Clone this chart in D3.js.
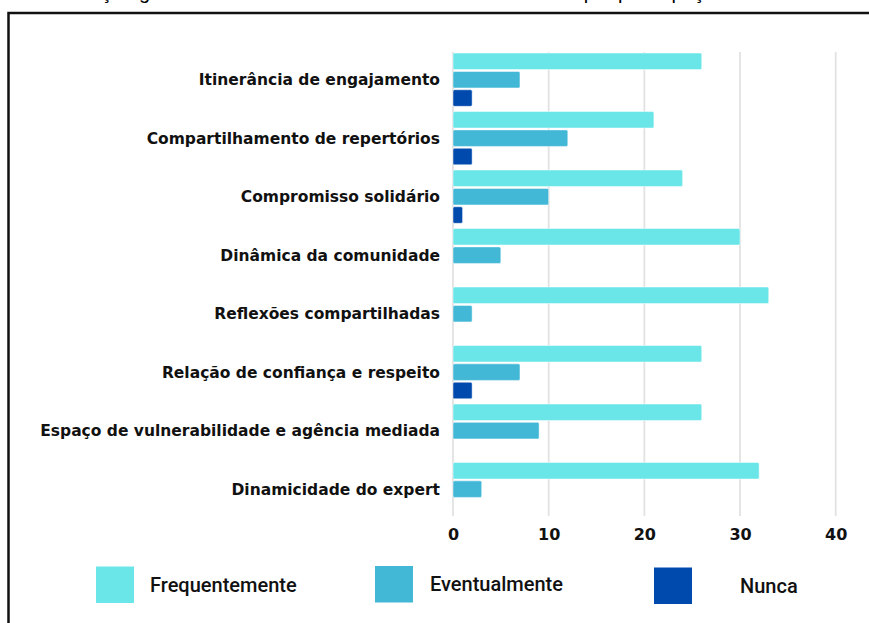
<!DOCTYPE html>
<html><head><meta charset="utf-8">
<script src="https://cdn.jsdelivr.net/npm/d3@7"></script>
<style>
body{margin:0;background:#fff;}
svg{display:block;}
</style></head>
<body>
<script>
const categories = [
  "Itinerância de engajamento",
  "Compartilhamento de repertórios",
  "Compromisso solidário",
  "Dinâmica da comunidade",
  "Reflexões compartilhadas",
  "Relação de confiança e respeito",
  "Espaço de vulnerabilidade e agência mediada",
  "Dinamicidade do expert"
];
const seriesNames = ["Frequentemente", "Eventualmente", "Nunca"];
const frequentemente = [26, 21, 24, 30, 33, 26, 26, 32];
const eventualmente  = [7, 12, 10, 5, 2, 7, 9, 3];
const nunca          = [2, 2, 1, 0, 0, 2, 0, 0];
const xTicks = [0, 10, 20, 30, 40];
const colors = ["#6be6e8", "#42b8d6", "#004aad"];
const titleText = "Relação geral dos elementos constituintes da comunidade por participação";

const W = 869, H = 623;
const svg = d3.select("body").append("svg").attr("width", W).attr("height", H);

// partially visible title cut off at top
svg.append("text").attr("x", 60).attr("y", -1)
  .attr("font-family", "Liberation Sans, Arial, sans-serif")
  .attr("font-size", 20).attr("fill", "#000").text(titleText);

// frame
svg.append("rect").attr("x", 8.5).attr("y", 13).attr("width", 900).attr("height", 700)
  .attr("fill", "none").attr("stroke", "#111").attr("stroke-width", 2.5);

const x = d3.scaleLinear().domain([0, 40]).range([453, 835.7]);
const y0 = d3.scaleBand().domain(categories).range([50.1, 518.7]).paddingInner(0.089).paddingOuter(0.05);
const y1 = d3.scaleBand().domain(seriesNames).range([0, y0.bandwidth()]).paddingInner(0.1).paddingOuter(0);
const color = d3.scaleOrdinal().domain(seriesNames).range(colors);

// grid
svg.append("g").selectAll("line").data(xTicks).join("line")
  .attr("x1", d => x(d)).attr("x2", d => x(d))
  .attr("y1", 52).attr("y2", 516)
  .attr("stroke", "#e2e2e2").attr("stroke-width", 1.8);

const rows = categories.map((c, i) => ({cat: c, vals: [frequentemente[i], eventualmente[i], nunca[i]]}));

const g = svg.append("g").selectAll("g").data(rows).join("g")
  .attr("transform", d => `translate(0,${y0(d.cat)})`);
g.selectAll("rect").data(d => d.vals.map((v, j) => ({s: seriesNames[j], v})).filter(e => e.v > 0))
  .join("rect")
  .attr("x", x(0)).attr("y", d => y1(d.s))
  .attr("width", d => x(d.v) - x(0)).attr("height", y1.bandwidth())
  .attr("rx", 1.5)
  .attr("fill", d => color(d.s))
  .attr("stroke", "rgba(255,255,255,0.6)").attr("stroke-width", 0.8);

// category labels
svg.append("g").selectAll("text").data(categories).join("text")
  .attr("x", 440).attr("y", d => y0(d) + y0.bandwidth() / 2)
  .attr("dy", "0.36em").attr("text-anchor", "end")
  .attr("font-family", "DejaVu Sans, sans-serif").attr("font-weight", 700)
  .attr("font-size", 15.5).attr("fill", "#111").text(d => d);

// x axis
const axis = svg.append("g").attr("transform", "translate(0,520)")
  .call(d3.axisBottom(x).tickValues(xTicks).tickSize(0).tickPadding(9).tickFormat(d3.format("d")));
axis.select(".domain").remove();
axis.selectAll("text").attr("font-family", "DejaVu Sans, sans-serif").attr("font-weight", 700)
  .attr("font-size", 16).attr("fill", "#111");

// legend
const legendX = [96, 375, 654];
const legendTextX = [150, 430, 740];
const legendY = [566.5, 566, 567.5];
const legend = svg.append("g").selectAll("g").data(seriesNames).join("g");
legend.append("rect")
  .attr("x", (d, i) => legendX[i]).attr("y", (d, i) => legendY[i])
  .attr("width", 38).attr("height", 36.5)
  .attr("fill", d => color(d));
legend.append("text")
  .attr("x", (d, i) => legendTextX[i]).attr("y", (d, i) => legendY[i] + 18)
  .attr("dy", "0.35em")
  .attr("font-family", "Roboto, sans-serif").attr("font-weight", 500)
  .attr("font-size", 20).attr("fill", "#111").text(d => d);
</script>
</body></html>
